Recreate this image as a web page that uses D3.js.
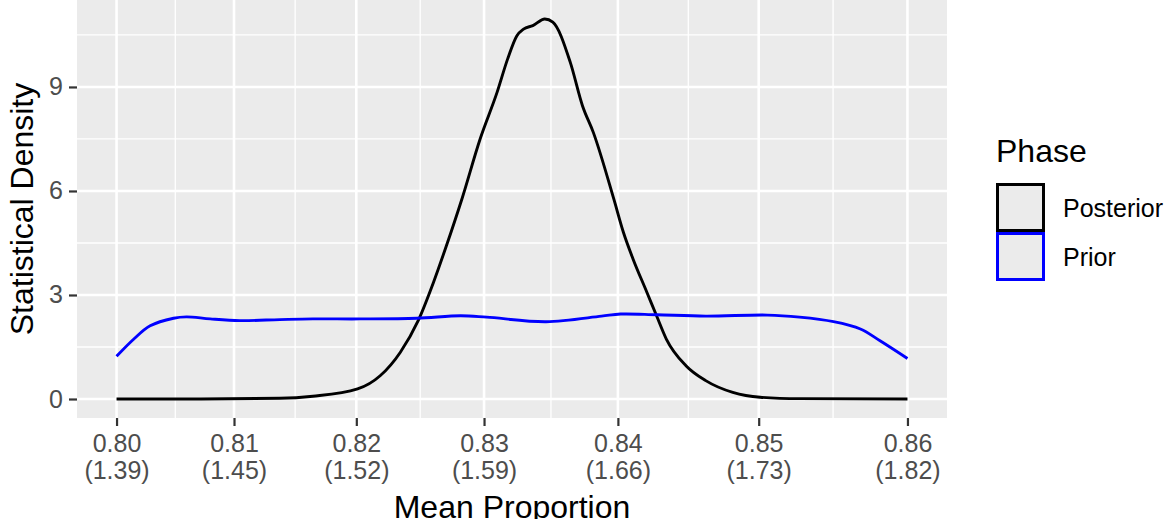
<!DOCTYPE html>
<html lang="en">
<head>
<meta charset="utf-8">
<title>Mean Proportion density</title>
<script src="https://cdn.jsdelivr.net/npm/d3@7"></script>
<style>
  body { margin: 0; background: #fff; }
  text { font-family: "Liberation Sans", Arial, Helvetica, sans-serif; }
</style>
</head>
<body>
<script>
// ---- data ----
var xTicks = [0.80, 0.81, 0.82, 0.83, 0.84, 0.85, 0.86];
var xTickSub = ["(1.39)", "(1.45)", "(1.52)", "(1.59)", "(1.66)", "(1.73)", "(1.82)"];
var yTicks = [0, 3, 6, 9];
var phases = ["Posterior", "Prior"];
var phaseColors = ["#000000", "#0000ff"];

var postX = [0.800, 0.8072, 0.8138, 0.8165, 0.8201, 0.8219, 0.8235, 0.8249, 0.8261, 0.8271,
             0.8283, 0.8297, 0.8310, 0.8318, 0.8325, 0.8330, 0.8337, 0.8346, 0.8352, 0.8365,
             0.8374, 0.8382, 0.8397, 0.8404, 0.8411, 0.8421, 0.8428, 0.8435, 0.8449, 0.8463,
             0.8482, 0.8501, 0.8528, 0.860];
var postY = [0.00, 0.00, 0.02, 0.08, 0.29, 0.67, 1.35, 2.26, 3.37, 4.42,
             5.77, 7.50, 8.85, 9.81, 10.48, 10.67, 10.77, 10.96, 10.87, 9.71,
             8.46, 7.69, 5.77, 4.81, 4.04, 3.08, 2.40, 1.73, 0.96, 0.53,
             0.19, 0.05, 0.01, 0.00];

var priorX = [0.8000, 0.8015, 0.8029, 0.8049, 0.8060, 0.8080, 0.8105, 0.8138, 0.8165, 0.8203,
              0.8248, 0.8282, 0.8302, 0.8347, 0.8388, 0.8402, 0.8428, 0.8463, 0.8506, 0.8528,
              0.8551, 0.8569, 0.8582, 0.8600];
var priorY = [1.23, 1.73, 2.11, 2.33, 2.37, 2.31, 2.26, 2.29, 2.31, 2.31,
              2.33, 2.40, 2.36, 2.23, 2.39, 2.45, 2.43, 2.39, 2.42, 2.36,
              2.23, 2.02, 1.68, 1.17];

// ---- layout ----
var w = 1165, h = 519;
var panel = { left: 77, right: 947, top: 0, bottom: 418 };

var logit = function(p) { return Math.log(p / (1 - p)); };

// x is linear on the logit scale, with 5% expansion
var lo = logit(d3.min(xTicks)), hi = logit(d3.max(xTicks));
var xPad = (hi - lo) * 0.05;
var xScale = d3.scaleLinear()
  .domain([lo - xPad, hi + xPad])
  .range([panel.left, panel.right]);

var yMax = d3.max(postY);
var yPad = yMax * 0.05;
var yScale = d3.scaleLinear()
  .domain([-yPad, yMax + yPad])
  .range([panel.bottom, panel.top]);

var svg = d3.select("body").append("svg")
  .attr("width", w)
  .attr("height", h);

// panel background
svg.append("rect")
  .attr("x", panel.left).attr("y", panel.top)
  .attr("width", panel.right - panel.left)
  .attr("height", panel.bottom - panel.top)
  .attr("fill", "#ebebeb");

// minor grid
var xMinor = d3.pairs(xTicks).map(function(p) { return (logit(p[0]) + logit(p[1])) / 2; });
var yMinor = [1.5, 4.5, 7.5, 10.5];

var grid = svg.append("g");
grid.selectAll(".xminor").data(xMinor).enter().append("line")
  .attr("x1", function(d) { return xScale(d); }).attr("x2", function(d) { return xScale(d); })
  .attr("y1", panel.top).attr("y2", panel.bottom)
  .attr("stroke", "#fff").attr("stroke-width", 1.3);
grid.selectAll(".yminor").data(yMinor).enter().append("line")
  .attr("y1", function(d) { return yScale(d); }).attr("y2", function(d) { return yScale(d); })
  .attr("x1", panel.left).attr("x2", panel.right)
  .attr("stroke", "#fff").attr("stroke-width", 1.3);
grid.selectAll(".xmajor").data(xTicks).enter().append("line")
  .attr("x1", function(d) { return xScale(logit(d)); }).attr("x2", function(d) { return xScale(logit(d)); })
  .attr("y1", panel.top).attr("y2", panel.bottom)
  .attr("stroke", "#fff").attr("stroke-width", 2.6);
grid.selectAll(".ymajor").data(yTicks).enter().append("line")
  .attr("y1", function(d) { return yScale(d); }).attr("y2", function(d) { return yScale(d); })
  .attr("x1", panel.left).attr("x2", panel.right)
  .attr("stroke", "#fff").attr("stroke-width", 2.6);

// density lines
var linePost = d3.line()
  .x(function(d) { return xScale(logit(d[0])); })
  .y(function(d) { return yScale(d[1]); })
  .curve(d3.curveMonotoneX);
var linePrior = d3.line()
  .x(function(d) { return xScale(logit(d[0])); })
  .y(function(d) { return yScale(d[1]); })
  .curve(d3.curveCatmullRom.alpha(0.5));

svg.append("path")
  .datum(d3.zip(postX, postY))
  .attr("d", linePost)
  .attr("fill", "none")
  .attr("stroke", phaseColors[0])
  .attr("stroke-width", 2.9)
  .attr("stroke-linejoin", "round");

svg.append("path")
  .datum(d3.zip(priorX, priorY))
  .attr("d", linePrior)
  .attr("fill", "none")
  .attr("stroke", phaseColors[1])
  .attr("stroke-width", 2.9)
  .attr("stroke-linejoin", "round");

// x axis
var xAxis = svg.append("g")
  .attr("transform", "translate(0," + panel.bottom + ")")
  .call(d3.axisBottom(xScale)
    .tickValues(xTicks.map(logit))
    .tickSize(8)
    .tickFormat(""));
xAxis.select(".domain").remove();
xAxis.selectAll(".tick line").attr("stroke", "#333333").attr("stroke-width", 2.2);
xAxis.selectAll(".tick").each(function(d, i) {
  var t = d3.select(this).append("text")
    .attr("fill", "#4d4d4d")
    .attr("font-size", 25)
    .attr("text-anchor", "middle");
  t.append("tspan").attr("x", 0).attr("y", 34).text(xTicks[i].toFixed(2));
  t.append("tspan").attr("x", 0).attr("y", 61).text(xTickSub[i]);
});

// y axis
var yAxis = svg.append("g")
  .attr("transform", "translate(" + panel.left + ",0)")
  .call(d3.axisLeft(yScale)
    .tickValues(yTicks)
    .tickSize(8)
    .tickPadding(6));
yAxis.select(".domain").remove();
yAxis.selectAll(".tick line").attr("stroke", "#333333").attr("stroke-width", 2.2);
yAxis.selectAll(".tick text")
  .attr("fill", "#4d4d4d")
  .attr("font-size", 25)
  .attr("font-family", null);

// axis titles
svg.append("text")
  .attr("x", (panel.left + panel.right) / 2)
  .attr("y", 518)
  .attr("text-anchor", "middle")
  .attr("font-size", 32)
  .attr("fill", "#000")
  .text("Mean Proportion");

svg.append("text")
  .attr("transform", "translate(33," + ((panel.top + panel.bottom) / 2) + ") rotate(-90)")
  .attr("text-anchor", "middle")
  .attr("font-size", 32)
  .attr("fill", "#000")
  .text("Statistical Density");

// legend
var legend = svg.append("g").attr("transform", "translate(996,0)");
legend.append("text")
  .attr("x", 0).attr("y", 162)
  .attr("font-size", 32)
  .attr("fill", "#000")
  .text("Phase");

var keys = legend.selectAll(".key").data(phases).enter().append("g")
  .attr("transform", function(d, i) { return "translate(0," + (183 + i * 49) + ")"; });
keys.append("rect")
  .attr("x", 1.5).attr("y", 1.5)
  .attr("width", 46).attr("height", 46)
  .attr("fill", "#ebebeb")
  .attr("stroke", function(d, i) { return phaseColors[i]; })
  .attr("stroke-width", 3);
keys.append("text")
  .attr("x", 67).attr("y", 25)
  .attr("dy", "0.35em")
  .attr("font-size", 25)
  .attr("fill", "#000")
  .text(function(d) { return d; });
</script>
</body>
</html>
